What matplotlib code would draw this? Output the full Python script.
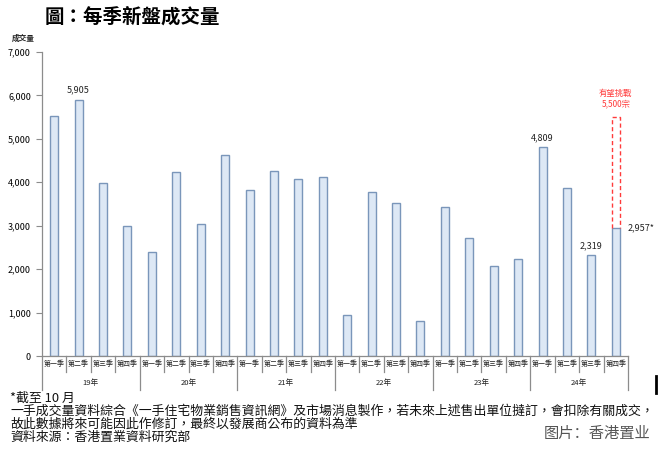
import matplotlib.pyplot as plt
from matplotlib.ticker import FuncFormatter
import matplotlib.transforms as mtransforms

plt.rcParams['font.family'] = ['Noto Sans CJK TC', 'DejaVu Sans']

# =========================
# Data
# =========================
years = ["19年", "20年", "21年", "22年", "23年", "24年"]
quarters = ["第一季", "第二季", "第三季", "第四季"]
volumes = [
    5520, 5905, 3980, 2990,   # 19
    2395, 4235, 3040, 4630,   # 20
    3820, 4260, 4080, 4130,   # 21
    944, 3770, 3520, 810,     # 22
    3420, 2710, 2070, 2230,   # 23
    4809, 3870, 2319, 2957,   # 24
]
# bars that get a value label
labelled = {1: "5,905", 20: "4,809", 22: "2,319"}
target = 5500  # 有望挑戰 5,500宗

bar_face = "#dde8f5"
bar_edge = "#7a96ba"
axis_col = "#8c8c8c"
bar_w = 0.33

fig = plt.figure(figsize=(6.71, 4.53), dpi=100)
ax = fig.add_axes([42 / 671, 97 / 453, 586 / 671, 304 / 453])

x = list(range(len(volumes)))
ax.bar(x, volumes, width=bar_w, color=bar_face, edgecolor=bar_edge, linewidth=1.0)

# dashed target box on last bar (three sides, sits on top of the bar)
last = len(volumes) - 1
hw = bar_w / 2
ax.plot([last - hw, last - hw, last + hw, last + hw],
        [volumes[last], target, target, volumes[last]],
        color="#ff3b3b", linestyle=(0, (3, 2)), linewidth=1.0)
ax.text(last, target + 200, "有望挑戰\n5,500宗", color="#ff3b3b", fontsize=6,
        ha="center", va="bottom", linespacing=1.15)

for i, lab in labelled.items():
    ax.text(i, volumes[i] + 120, lab, fontsize=6.5, ha="center", va="bottom", color="#222222")
ax.text(last + 0.48, volumes[last], "2,957*", fontsize=6.5, ha="left", va="center", color="#222222")

ax.set_xlim(-0.5, len(volumes) - 0.5)
ax.set_ylim(0, 7000)
ax.set_yticks(range(0, 7001, 1000))
ax.yaxis.set_major_formatter(FuncFormatter(lambda v, p: f"{int(v):,}"))
ax.tick_params(axis="y", labelsize=6.5, length=4, color=axis_col, width=0.8, pad=4)
ax.set_xticks([])

for s in ["top", "right"]:
    ax.spines[s].set_visible(False)
for s in ["left", "bottom"]:
    ax.spines[s].set_color(axis_col)
    ax.spines[s].set_linewidth(0.9)

# category axis: quarter separators, year separators and labels
trans = mtransforms.blended_transform_factory(ax.transData, ax.transAxes)
for b in range(len(volumes) + 1):
    xb = b - 0.5
    if b % 4 == 0:
        ax.plot([xb, xb], [0, -0.112], transform=trans, color=axis_col, lw=0.9, clip_on=False)
    else:
        ax.plot([xb, xb], [0, -0.053], transform=trans, color=axis_col, lw=0.9, clip_on=False)

for i in x:
    ax.text(i, -0.027, quarters[i % 4], transform=trans, fontsize=5,
            ha="center", va="center", color="#222222")
for j, yr in enumerate(years):
    ax.text(j * 4 + 1.5, -0.088, yr, transform=trans, fontsize=5.5,
            ha="center", va="center", color="#222222")

# titles and notes
fig.text(45 / 671, 1 - 17 / 453, "圖：每季新盤成交量", fontsize=14, fontweight="bold",
         ha="left", va="center")
fig.text(12 / 671, 1 - 38 / 453, "成交量", fontsize=5.5, fontweight="bold",
         ha="left", va="center", color="#222222")

notes = [
    "*截至 10 月",
    "一手成交量資料綜合《一手住宅物業銷售資訊網》及市場消息製作，若未來上述售出單位撻訂，會扣除有關成交，",
    "故此數據將來可能因此作修訂，最終以發展商公布的資料為準",
    "資料來源：香港置業資料研究部",
]
for k, line in enumerate(notes):
    fig.text(10 / 671, 1 - (398 + k * 13.2) / 453, line, fontsize=9.3,
             ha="left", va="center", color="#111111")

fig.text(650 / 671, 1 - 433 / 453, "图片：香港置业", fontsize=11, ha="right",
         va="center", color="#555555", family=["Noto Sans CJK SC", "DejaVu Sans"])

# cursor mark at right
fig.add_artist(plt.Line2D([656 / 671, 656 / 671], [1 - 376 / 453, 1 - 393 / 453],
                          color="black", lw=2))

fig.savefig("out.png", dpi=100)
